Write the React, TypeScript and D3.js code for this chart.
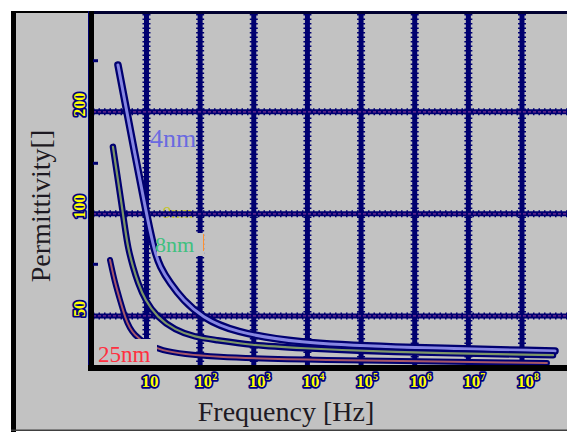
import React from "react";
import * as d3 from "d3";

// ---- data ----
const xTickExps = [1, 2, 3, 4, 5, 6, 7, 8];
const yTicks = [50, 100, 200];
const yMinorTicks = [71, 141, 283];

const freq4 = [2.94, 4.92, 9.38, 13.8, 17.9, 27.4, 47.9, 108, 410, 7270, 2.25e5, 4.13e8];
const perm4 = [275, 179, 105, 78.3, 69.7, 62.5, 55.7, 49.6, 44.8, 41.6, 40.5, 39.4];

const freq8 = [2.37, 2.94, 3.49, 3.97, 4.52, 5.6, 6.94, 9.38, 15.7, 34.0, 80.2, 189, 850, 7270, 2.25e5, 3.79e8];
const perm8 = [157.6, 125.9, 104.8, 90.9, 79.3, 69.7, 62.5, 55.7, 49.6, 45.4, 43.3, 42.5, 41.0, 40.2, 39.1, 38.3];

const freq25 = [2.09, 2.59, 3.21, 3.97, 5.37, 16.4, 189, 7270, 2.92e8];
const perm25 = [73.1, 62.5, 55.7, 49.6, 43.9, 39.1, 37.8, 37.1, 36.3];

const seriesNames = ["4nm", "8nm", "25nm"];

const W = 567;
const H = 432;
const NAVY = "#000070";

export default function App() {
  const x = d3.scaleLog().domain([0.885, 6.9e8]).range([90, 567]);
  const y = d3.scaleLog().domain([35.1, 394]).range([368, 12]);

  const line = d3
    .line<[number, number]>()
    .x((d) => x(d[0]))
    .y((d) => y(d[1]))
    .curve(d3.curveBasis);

  const zip = (a: number[], b: number[]) => a.map((v, i) => [v, b[i]] as [number, number]);

  const series = [
    { name: seriesNames[0], d: line(zip(freq4, perm4)) || "", core: "#8686e2", outer: 7.5, inner: 3 },
    { name: seriesNames[1], d: line(zip(freq8, perm8)) || "", core: "#7d9668", outer: 6.5, inner: 2.2 },
    { name: seriesNames[2], d: line(zip(freq25, perm25)) || "", core: "#a85868", outer: 6, inner: 2 },
  ];

  const tickStyle: React.CSSProperties = {
    fontFamily: "'Liberation Serif', 'DejaVu Serif', serif",
    fontWeight: 700,
  };

  const sup = ["", "", "2", "3", "4", "5", "6", "7", "8"];

  return (
    <svg
      width={W}
      height={H}
      style={{ position: "absolute", left: 0, top: 0, display: "block" }}
    >
      <rect x={0} y={0} width={W} height={H} fill="#ffffff" />
      <rect x={11} y={11} width={W - 11} height={420} fill="#c2c2c2" />
      {/* outer frame */}
      <rect x={11} y={11} width={5} height={421} fill="#000" />
      <rect x={11} y={11} width={W - 11} height={2} fill="#000" />
      <rect x={11} y={429.5} width={W - 11} height={1.5} fill="#404040" />

      {/* hidden 9nm label (under the grid) */}
      <text
        x={163}
        y={218}
        fontSize={17}
        fill="#c4c42c"
        fontFamily="'Liberation Serif', serif"
      >
        9nm
      </text>

      {/* vertical grid */}
      {xTickExps.map((e) => {
        const xx = x(Math.pow(10, e));
        return (
          <g key={"v" + e}>
            <line x1={xx} x2={xx} y1={14} y2={365} stroke={NAVY} strokeWidth={5} />
            <line x1={xx} x2={xx} y1={14} y2={365} stroke={NAVY} strokeWidth={8} strokeDasharray="1.5 3" />
          </g>
        );
      })}
      {/* horizontal grid */}
      {yTicks.map((t) => {
        const yy = y(t);
        return (
          <g key={"h" + t}>
            <line x1={93} x2={W} y1={yy} y2={yy} stroke={NAVY} strokeWidth={5} />
            <line x1={93} x2={W} y1={yy} y2={yy} stroke={NAVY} strokeWidth={7} strokeDasharray="1.5 4" />
            <line x1={93} x2={W} y1={yy} y2={yy} stroke="#7a3092" strokeWidth={1.2} strokeDasharray="3 2" />
          </g>
        );
      })}

      {/* curves */}
      {series.map((s) => (
        <g key={s.name}>
          <path d={s.d} fill="none" stroke={NAVY} strokeWidth={s.outer} strokeLinecap="round" strokeLinejoin="round" />
          <path d={s.d} fill="none" stroke={s.core} strokeWidth={s.inner} strokeLinecap="round" strokeLinejoin="round" />
        </g>
      ))}

      {/* curve labels */}
      <text x={150} y={147} fontSize={26} fill="#6a6ae0" fontFamily="'Liberation Serif', serif">
        {seriesNames[0]}
      </text>
      <rect x={157} y={233} width={47} height={23} fill="#c2c2c2" />
      <line x1={203.5} x2={203.5} y1={234} y2={251} stroke="#ff9030" strokeWidth={1} />
      <text x={155} y={252} fontSize={22} fill="#40c080" fontFamily="'Liberation Serif', serif">
        {seriesNames[1]}
      </text>
      <rect x={96} y={339} width={61} height={26} fill="#c2c2c2" />
      <text x={98} y={362} fontSize={23} fill="#ff3040" fontFamily="'Liberation Serif', serif">
        {seriesNames[2]}
      </text>

      {/* axes */}
      <rect x={88} y={11} width={W - 88} height={3} fill="#000030" />
      <rect x={88} y={11} width={1.5} height={360} fill={NAVY} />
      <rect x={89} y={11} width={5} height={360} fill="#000" />
      <rect x={88} y={365} width={W - 88} height={6} fill="#000" />
      {yMinorTicks.map((t) => (
        <line key={"m" + t} x1={93} x2={98} y1={y(t)} y2={y(t)} stroke={NAVY} strokeWidth={3} />
      ))}

      {/* y tick labels */}
      {yTicks.map((t) => (
        <text
          key={"yl" + t}
          transform={`translate(85,${y(t) - 7}) rotate(-90)`}
          textAnchor="middle"
          fontSize={16}
          fill="#ffff00"
          stroke="#000080"
          strokeWidth={3.5}
          strokeLinejoin="round"
          paintOrder="stroke"
          style={tickStyle}
        >
          {t}
        </text>
      ))}

      {/* x tick labels */}
      {xTickExps.map((e) => (
        <text
          key={"xl" + e}
          x={x(Math.pow(10, e)) - 5}
          y={387}
          fontSize={17}
          fill="#ffff00"
          stroke="#000080"
          strokeWidth={3.5}
          strokeLinejoin="round"
          paintOrder="stroke"
          style={tickStyle}
        >
          10
          {e > 1 ? (
            <tspan dy={-7} fontSize={10}>
              {sup[e]}
            </tspan>
          ) : null}
        </text>
      ))}

      {/* axis titles */}
      <text
        x={286}
        y={421}
        textAnchor="middle"
        fontSize={28}
        fill="#1e1a22"
        fontFamily="'Liberation Serif', serif"
      >
        Frequency [Hz]
      </text>
      <text
        transform="translate(50,206) rotate(-90)"
        textAnchor="middle"
        fontSize={28}
        fill="#1e1a22"
        fontFamily="'Liberation Serif', serif"
      >
        Permittivity[]
      </text>
    </svg>
  );
}
